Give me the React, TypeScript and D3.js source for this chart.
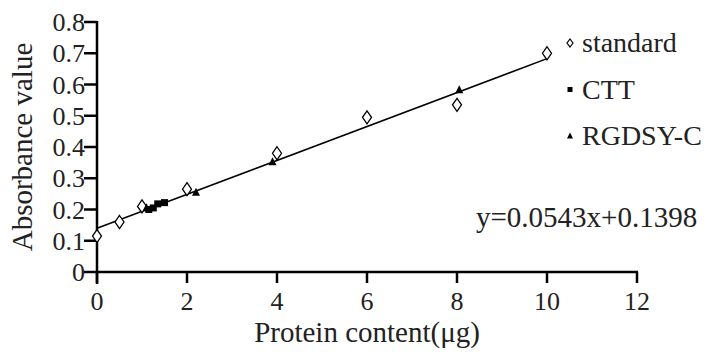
import React from 'react';
import * as d3 from 'd3';

const standardX = [0, 0.5, 1, 2, 4, 6, 8, 10];
const standardY = [0.115, 0.16, 0.21, 0.265, 0.38, 0.495, 0.535, 0.7];
const cttX = [1.15, 1.25, 1.35, 1.5];
const cttY = [0.2, 0.205, 0.218, 0.222];
const rgdsyX = [1.1, 2.2, 3.9, 8.05];
const rgdsyY = [0.205, 0.254, 0.352, 0.582];
const xTicks = [0, 2, 4, 6, 8, 10, 12];
const yTicks = [0, 0.1, 0.2, 0.3, 0.4, 0.5, 0.6, 0.7, 0.8];
const slope = 0.0543;
const intercept = 0.1398;
const legendLabels = ['standard', 'CTT', 'RGDSY-C'];

const W = 717;
const H = 354;
const margin = { left: 97, right: 80, top: 22, bottom: 82 };
const ff = 'Liberation Serif';

const diamond = (cx: number, cy: number, w: number, h: number) =>
  `M${cx},${cy - h / 2}L${cx + w / 2},${cy}L${cx},${cy + h / 2}L${cx - w / 2},${cy}Z`;
const triangle = (cx: number, cy: number, s: number) =>
  `M${cx},${cy - s * 0.6}L${cx + s / 2},${cy + s * 0.4}L${cx - s / 2},${cy + s * 0.4}Z`;

const App = () => {
  const x = d3.scaleLinear().domain([0, 12]).range([margin.left, W - margin.right]);
  const y = d3.scaleLinear().domain([0, 0.8]).range([H - margin.bottom, margin.top]);
  const x0 = margin.left;
  const y0 = H - margin.bottom;
  const fmt = d3.format('');

  return (
    <svg width={W} height={H} style={{ position: 'absolute', left: 0, top: 0, background: '#fff' }}>
      <text x={x(10) - 71} y={227} fontSize={29} fill="#222" fontFamily={ff} style={{ fontFamily: ff }}>
        y=0.0543x+0.1398
      </text>
      {legendLabels.map((l, i) => {
        const ly = 43 + i * 46.5;
        return (
          <g key={l}>
            {i === 0 && <path d={diamond(570, ly, 6, 8)} fill="#fff" stroke="#000" strokeWidth={1.2} />}
            {i === 1 && <rect x={567.5} y={ly - 2.5} width={5} height={5} fill="#000" />}
            {i === 2 && <path d={triangle(570, ly, 6)} fill="#000" />}
            <text x={582} y={ly + 9} fontSize={28} fill="#222" fontFamily={ff} style={{ fontFamily: ff }}>
              {l}
            </text>
          </g>
        );
      })}
      {xTicks.map((t) => (
        <text key={`xl${t}`} x={x(t)} y={y0 + 38} fontSize={26} textAnchor="middle" fill="#222" fontFamily={ff} style={{ fontFamily: ff }}>
          {t}
        </text>
      ))}
      {yTicks.map((t) => (
        <text key={`yl${t}`} x={x0 - 12} y={y(t) + 9} fontSize={26} textAnchor="end" fill="#222" fontFamily={ff} style={{ fontFamily: ff }}>
          {fmt(t)}
        </text>
      ))}
      <text x={(x(0) + x(12)) / 2} y={H - 12} fontSize={29} textAnchor="middle" fill="#222" fontFamily={ff} style={{ fontFamily: ff }}>
        Protein content(μg)
      </text>
      <text
        transform={`translate(32,${(y(0) + y(0.8)) / 2}) rotate(-90)`}
        fontSize={29}
        textAnchor="middle"
        fill="#222"
        fontFamily={ff}
        style={{ fontFamily: ff }}
      >
        Absorbance value
      </text>
      {/* fit line */}
      <line x1={x(0)} y1={y(intercept)} x2={x(10)} y2={y(slope * 10 + intercept)} stroke="#000" strokeWidth={1.5} />
      {/* axes */}
      <line x1={x0} y1={y0} x2={x(12) + 1} y2={y0} stroke="#000" strokeWidth={2.5} />
      <line x1={x0} y1={y(0.8) - 1} x2={x0} y2={y0 + 12} stroke="#000" strokeWidth={2.5} />
      {xTicks.map((t) => (
        <line key={`xt${t}`} x1={x(t)} x2={x(t)} y1={y0} y2={y0 + 11} stroke="#000" strokeWidth={2.5} />
      ))}
      {yTicks.map((t) => (
        <line key={`yt${t}`} x1={x0 - 13} x2={x0} y1={y(t)} y2={y(t)} stroke="#000" strokeWidth={2.5} />
      ))}
      {/* data */}
      {standardX.map((d, i) => (
        <path key={`s${i}`} d={diamond(x(d), y(standardY[i]), 9, 13)} fill="#fff" stroke="#000" strokeWidth={1.3} />
      ))}
      {cttX.map((d, i) => (
        <rect key={`c${i}`} x={x(d) - 3.5} y={y(cttY[i]) - 3.5} width={7} height={7} fill="#000" />
      ))}
      {rgdsyX.map((d, i) => (
        <path key={`r${i}`} d={triangle(x(d), y(rgdsyY[i]), 8)} fill="#000" />
      ))}
    </svg>
  );
};

export default App;
